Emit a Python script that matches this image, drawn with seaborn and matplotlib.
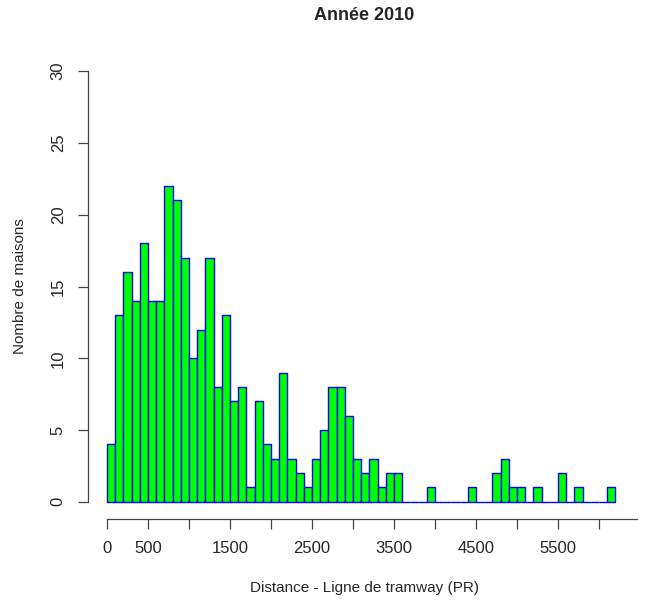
import numpy as np
import pandas as pd
import matplotlib
matplotlib.use("Agg")
import matplotlib.pyplot as plt
import seaborn as sns

# === Données (histogramme, classes de 100 m) ===
bord_min = 0
largeur_classe = 100
effectifs = [4, 13, 16, 14, 18, 14, 14, 22, 21, 17,
             10, 12, 17, 8, 13, 7, 8, 1, 7, 4,
             3, 9, 3, 2, 1, 3, 5, 8, 8, 6,
             3, 2, 3, 1, 2, 2, 0, 0, 0, 1,
             0, 0, 0, 0, 1, 0, 0, 2, 3, 1,
             1, 0, 1, 0, 0, 2, 0, 1, 0, 0,
             0, 1]
graduations_x = [0, 500, 1000, 1500, 2000, 2500, 3000, 3500, 4000, 4500, 5000, 5500, 6000]
etiquettes_x = ["0", "500", "", "1500", "", "2500", "", "3500", "", "4500", "", "5500", ""]
graduations_y = [0, 5, 10, 15, 20, 25, 30]

bord_max = bord_min + largeur_classe * len(effectifs)
centres = bord_min + largeur_classe * (np.arange(len(effectifs)) + 0.5)
df = pd.DataFrame({"distance": centres, "n": effectifs})

sns.set_style("white")
plt.rcParams['font.family'] = ['Liberation Sans', 'DejaVu Sans']

fig = plt.figure(figsize=(6.48, 6.04), dpi=100)
W, H = 648, 604
ax = fig.add_axes([88 / W, (H - 519) / H, (640 - 88) / W, (519 - 54) / H])

sns.histplot(data=df, x="distance", weights="n", binwidth=largeur_classe,
             binrange=(bord_min, bord_max), ax=ax,
             color="#00FF00", edgecolor="#0000FF", linewidth=1.0, alpha=1)

ax.set_xlim(-232, 6500)
ax.set_ylim(-1.2, 31.2)

# axes façon R
for cote in ["top", "right"]:
    ax.spines[cote].set_visible(False)
ax.spines["left"].set_bounds(0, 30)
ax.spines["bottom"].set_bounds(0, 6460)
for cote in ["left", "bottom"]:
    ax.spines[cote].set_color("#444444")
    ax.spines[cote].set_linewidth(0.9)

ax.set_xticks(graduations_x)
ax.set_xticklabels(etiquettes_x)
ax.set_yticks(graduations_y)
ax.set_yticklabels([str(v) for v in graduations_y], rotation=90, va="center")
ax.tick_params(axis="both", direction="out", length=7, width=0.9, color="#444444",
               labelsize=12, pad=9, bottom=True, left=True)

ax.set_xlabel("Distance - Ligne de tramway (PR)", fontsize=11, labelpad=18)
ax.set_ylabel("Nombre de maisons", fontsize=11, labelpad=17)
fig.text(364 / W, 1 - 16 / H, "Année 2010", ha="center", va="center",
         fontsize=13, fontweight="bold")

fig.savefig("out.png", dpi=100)
